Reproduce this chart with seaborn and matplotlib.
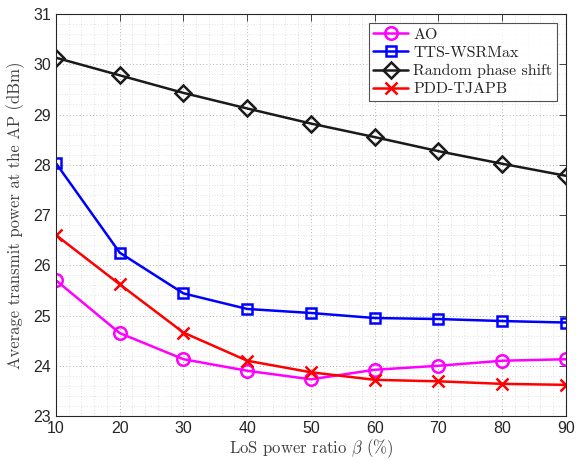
import numpy as np
import pandas as pd
import matplotlib
matplotlib.use("Agg")
import matplotlib.pyplot as plt
import seaborn as sns
from matplotlib.ticker import MultipleLocator

beta = [10, 20, 30, 40, 50, 60, 70, 80, 90]
ao = [25.70, 24.65, 24.13, 23.90, 23.73, 23.92, 24.00, 24.10, 24.13]
tts = [28.03, 26.25, 25.44, 25.13, 25.05, 24.95, 24.93, 24.89, 24.86]
rand_phase = [30.13, 29.78, 29.43, 29.12, 28.82, 28.55, 28.27, 28.02, 27.78]
pdd = [26.60, 25.62, 24.66, 24.10, 23.87, 23.72, 23.69, 23.64, 23.62]

names = ["AO", "TTS-WSRMax", "Random phase shift", "PDD-TJAPB"]
series = [ao, tts, rand_phase, pdd]
colors = ["#ff00ff", "#0000ff", "#1a1a1a", "#ff0000"]
markers = ["o", "s", "D", "x"]
sizes = [9, 7, 8, 8]

sns.set_style("white")
plt.rcParams["mathtext.fontset"] = "cm"
plt.rcParams["font.family"] = ["Liberation Sans", "DejaVu Sans"]
plt.rcParams["axes.unicode_minus"] = False

fig = plt.figure(figsize=(5.76, 4.61), dpi=100)
ax = fig.add_axes([0.0972, 0.0976, 0.8854, 0.8720])

for name, vals, c, m, s in zip(names, series, colors, markers, sizes):
    sns.lineplot(x=beta, y=vals, ax=ax, color=c, marker=m, ms=s, mfc="none",
                 mec=c, mew=1.8, lw=1.8, label=name)

ax.set_xlim(10, 90)
ax.set_ylim(23, 31)
ax.set_xticks(beta)
ax.set_yticks(range(23, 32))
ax.xaxis.set_minor_locator(MultipleLocator(2))
ax.yaxis.set_minor_locator(MultipleLocator(0.2))
ax.grid(which="major", color="#9a9a9a", ls=(0, (1, 3)), lw=0.6)
ax.grid(which="minor", color="#c8c8c8", ls=(0, (1, 3)), lw=0.5)
ax.set_axisbelow(True)
ax.tick_params(which="major", direction="in", top=True, right=True, length=5,
               labelsize=11.5, colors="#262626", width=0.6)
ax.tick_params(which="minor", length=0)
for sp in ax.spines.values():
    sp.set_color("#262626")
    sp.set_linewidth(0.8)

ax.set_xlabel(r"LoS power ratio $\beta$ (%)", family="cmr10", fontsize=12,
              color="#404040", labelpad=1)
ax.set_ylabel("Average transmit power at the AP (dBm)", family="cmr10",
              fontsize=12, color="#404040", labelpad=6)

leg = ax.legend(loc="upper right", prop={"family": "cmr10", "size": 11.5},
                frameon=True, fancybox=False, edgecolor="#262626",
                handlelength=2.2, borderpad=0.3, labelspacing=0.25,
                handletextpad=0.3, borderaxespad=0.55)
leg.get_frame().set_linewidth(0.8)

fig.savefig("out.png", dpi=100)
